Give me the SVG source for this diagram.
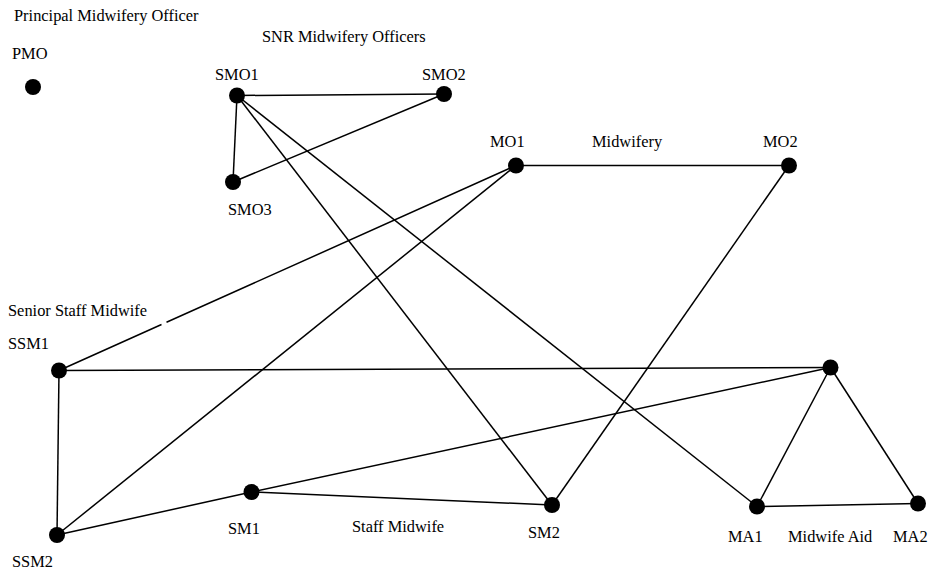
<svg xmlns="http://www.w3.org/2000/svg" width="930" height="571" viewBox="0 0 930 571" font-family="'Liberation Serif', 'Times New Roman', 'DejaVu Serif', serif" font-size="16.4">
<style>
.e{stroke:#000;stroke-width:1.5;fill:none}
.n{fill:#000}
</style>
<rect width="930" height="571" fill="#fff"/>
<g id="labels">
<text x="14" y="21">Principal Midwifery Officer</text>
<text x="262" y="42">SNR Midwifery Officers</text>
<text x="592" y="147">Midwifery</text>
<text x="8" y="316">Senior Staff Midwife</text>
<text x="352" y="532">Staff Midwife</text>
<text x="788" y="542">Midwife Aid</text>
</g>
<g id="connectors">
<line class="e" x1="237" y1="95.5" x2="444" y2="94"/>
<line class="e" x1="237" y1="95.5" x2="233" y2="182"/>
<line class="e" x1="233" y1="182" x2="444" y2="94"/>
<line class="e" x1="237" y1="95.5" x2="552" y2="505"/>
<line class="e" x1="237" y1="95.5" x2="757" y2="506.5"/>
<line class="e" x1="516" y1="165.5" x2="789" y2="165.5"/>
<path class="e" d="M59 370.5 L161.5 324.5 M166.5 322.3 L516 165.5"/>
<line class="e" x1="516" y1="165.5" x2="57" y2="535"/>
<line class="e" x1="789" y1="165.5" x2="552" y2="505"/>
<line class="e" x1="59" y1="370.5" x2="57" y2="535"/>
<line class="e" x1="59" y1="370.5" x2="830.5" y2="367.5"/>
<line class="e" x1="57" y1="535" x2="251.5" y2="492"/>
<line class="e" x1="251.5" y1="492" x2="830.5" y2="367.5"/>
<line class="e" x1="251.5" y1="492" x2="552" y2="505"/>
<line class="e" x1="830.5" y1="367.5" x2="757" y2="506.5"/>
<line class="e" x1="830.5" y1="367.5" x2="918" y2="503.5"/>
<line class="e" x1="757" y1="506.5" x2="918" y2="503.5"/>
</g>
<g id="PMO"><circle class="n" cx="33" cy="87" r="8"/><text x="12" y="59">PMO</text></g>
<g id="SMO1"><circle class="n" cx="237" cy="95.5" r="8"/><text x="215" y="80">SMO1</text></g>
<g id="SMO2"><circle class="n" cx="444" cy="94" r="8"/><text x="422" y="80">SMO2</text></g>
<g id="SMO3"><circle class="n" cx="233" cy="182" r="8"/><text x="228" y="215">SMO3</text></g>
<g id="MO1"><circle class="n" cx="516" cy="165.5" r="8"/><text x="490" y="147">MO1</text></g>
<g id="MO2"><circle class="n" cx="789" cy="165.5" r="8"/><text x="763" y="147">MO2</text></g>
<g id="SSM1"><circle class="n" cx="59" cy="370.5" r="8"/><text x="8" y="349">SSM1</text></g>
<g id="SSM2"><circle class="n" cx="57" cy="535" r="8"/><text x="12" y="567">SSM2</text></g>
<g id="SM1"><circle class="n" cx="251.5" cy="492" r="8"/><text x="228" y="534">SM1</text></g>
<g id="SM2"><circle class="n" cx="552" cy="505" r="8"/><text x="528" y="538">SM2</text></g>
<g id="MA"><circle class="n" cx="830.5" cy="367.5" r="8"/></g>
<g id="MA1"><circle class="n" cx="757" cy="506.5" r="8"/><text x="728" y="542">MA1</text></g>
<g id="MA2"><circle class="n" cx="918" cy="503.5" r="8"/><text x="893" y="542">MA2</text></g>
</svg>
